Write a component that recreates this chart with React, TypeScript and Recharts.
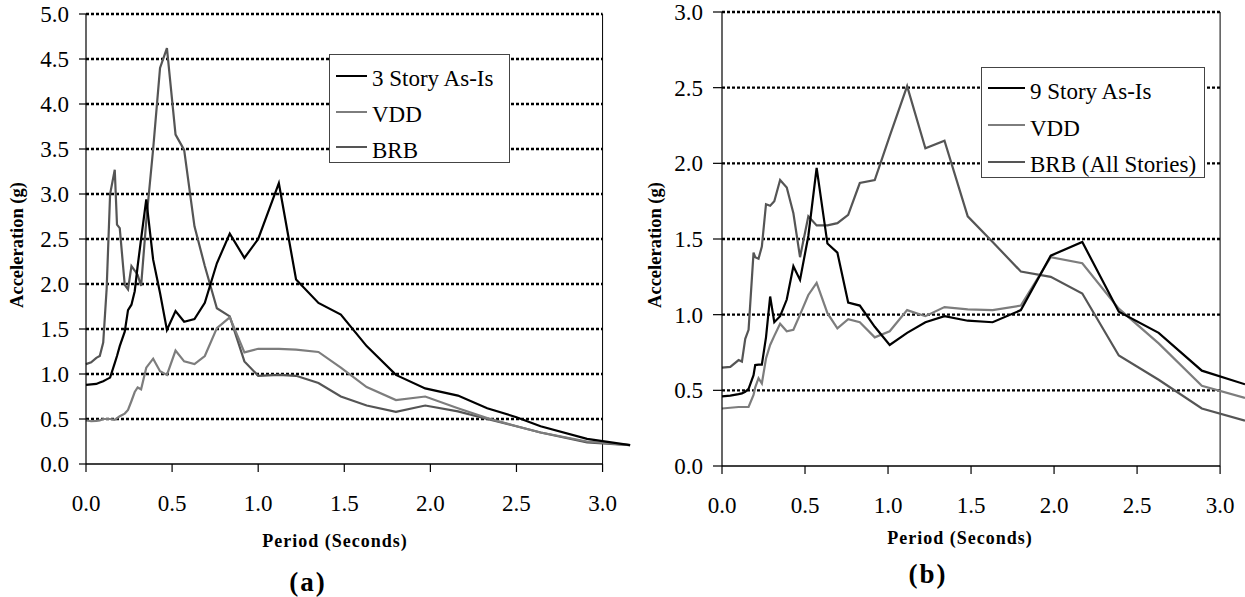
import React from "react";
import { LineChart, Line, XAxis, YAxis, ReferenceLine, Legend } from "recharts";

const FONT = '"Liberation Serif", "Times New Roman", serif';

// (a) 3 story building
const periodsA = [0, 0.03, 0.06, 0.08, 0.1, 0.12, 0.14, 0.167, 0.18, 0.196, 0.225, 0.244, 0.264, 0.283, 0.3, 0.32, 0.35, 0.39, 0.43, 0.47, 0.52, 0.57, 0.63, 0.69, 0.76, 0.835, 0.92, 1.0, 1.12, 1.22, 1.35, 1.48, 1.63, 1.8, 1.97, 2.16, 2.33, 2.5, 2.64, 2.91, 3.16];
const asIsA = [0.88, 0.885, 0.89, 0.905, 0.92, 0.94, 0.96, 1.12, 1.2, 1.31, 1.47, 1.71, 1.77, 1.92, 2.2, 2.5, 2.94, 2.27, 1.9, 1.49, 1.7, 1.58, 1.61, 1.79, 2.23, 2.56, 2.29, 2.5, 3.12, 2.05, 1.79, 1.66, 1.31, 0.99, 0.84, 0.76, 0.62, 0.52, 0.42, 0.28, 0.21];
const vddA = [0.485, 0.475, 0.48, 0.485, 0.5, 0.5, 0.5, 0.49, 0.51, 0.53, 0.56, 0.6, 0.7, 0.8, 0.85, 0.83, 1.07, 1.17, 1.03, 0.99, 1.26, 1.14, 1.11, 1.2, 1.51, 1.63, 1.24, 1.28, 1.28, 1.27, 1.245, 1.07, 0.855, 0.71, 0.75, 0.62, 0.51, 0.42, 0.35, 0.25, 0.21];
const brbA = [1.11, 1.13, 1.18, 1.2, 1.35, 1.95, 3.0, 3.27, 2.66, 2.62, 1.99, 1.94, 2.2, 2.15, 2.1, 1.98, 2.7, 3.5, 4.4, 4.62, 3.66, 3.49, 2.64, 2.2, 1.73, 1.64, 1.14, 0.98, 0.99, 0.98, 0.9, 0.75, 0.65, 0.58, 0.65, 0.585, 0.5, 0.42, 0.35, 0.24, 0.21];

// (b) 9 story building
const periodsB = [0, 0.05, 0.1, 0.12, 0.14, 0.16, 0.19, 0.2, 0.22, 0.24, 0.265, 0.29, 0.315, 0.35, 0.39, 0.43, 0.47, 0.52, 0.57, 0.635, 0.695, 0.76, 0.83, 0.92, 1.01, 1.115, 1.225, 1.34, 1.48, 1.63, 1.8, 1.98, 2.17, 2.39, 2.63, 2.89, 3.15];
const asIsB = [0.46, 0.465, 0.475, 0.48, 0.49, 0.51, 0.6, 0.667, 0.67, 0.67, 0.85, 1.12, 0.95, 0.99, 1.1, 1.32, 1.23, 1.52, 1.97, 1.47, 1.41, 1.08, 1.06, 0.92, 0.8, 0.88, 0.95, 0.99, 0.96, 0.95, 1.03, 1.39, 1.48, 1.02, 0.88, 0.63, 0.54];
const vddB = [0.38, 0.385, 0.39, 0.39, 0.39, 0.39, 0.47, 0.52, 0.58, 0.545, 0.71, 0.8, 0.86, 0.94, 0.89, 0.9, 1.0, 1.13, 1.21, 1.01, 0.91, 0.97, 0.95, 0.85, 0.89, 1.03, 0.99, 1.05, 1.035, 1.03, 1.06, 1.38, 1.34, 1.04, 0.81, 0.53, 0.45];
const brbB = [0.65, 0.655, 0.7, 0.69, 0.84, 0.9, 1.41, 1.38, 1.37, 1.45, 1.73, 1.72, 1.75, 1.89, 1.84, 1.67, 1.38, 1.65, 1.59, 1.59, 1.605, 1.66, 1.87, 1.89, 2.18, 2.51, 2.1, 2.15, 1.65, 1.48, 1.285, 1.25, 1.14, 0.73, 0.57, 0.38, 0.3];

const xTicks = [0, 0.5, 1, 1.5, 2, 2.5, 3];
const yTicksA = [0, 0.5, 1, 1.5, 2, 2.5, 3, 3.5, 4, 4.5, 5];
const yTicksB = [0, 0.5, 1, 1.5, 2, 2.5, 3];

const namesA = ["3 Story As-Is", "VDD", "BRB"];
const namesB = ["9 Story As-Is", "VDD", "BRB (All Stories)"];
const colors = ["#000000", "#7d7d7d", "#555555"];
const keys = ["asIs", "vdd", "brb"];

const dataA = periodsA.map((p, i) => ({ p, asIs: asIsA[i], vdd: vddA[i], brb: brbA[i] }));
const dataB = periodsB.map((p, i) => ({ p, asIs: asIsB[i], vdd: vddB[i], brb: brbB[i] }));

const tickStyle = { fill: "#000", fontSize: 23, fontFamily: FONT };
const fmt = (v: number) => v.toFixed(1);

function LegendBox({ names, sample, rowH, padTop }: any) {
  return (
    <div
      style={{
        width: "100%",
        height: "100%",
        boxSizing: "border-box",
        border: "1px solid #444",
        background: "#fff",
        paddingTop: padTop,
        fontFamily: FONT,
        fontSize: 23,
        color: "#000",
      }}
    >
      {names.map((n: string, i: number) => (
        <div key={n} style={{ height: rowH, display: "flex", alignItems: "center" }}>
          <span style={{ marginLeft: 6, width: sample, borderTop: `2.5px solid ${colors[i]}` }} />
          <span style={{ marginLeft: 5, lineHeight: 1, whiteSpace: "nowrap", position: "relative", top: 3 }}>{n}</span>
        </div>
      ))}
    </div>
  );
}

function Panel(props: any) {
  const { data, width, height, margin, yAxisWidth, yTickSize, xMax, yMax, yTicks, names, legend } = props;
  return (
    <LineChart width={width} height={height} data={data} margin={margin}>
      <XAxis
        type="number"
        dataKey="p"
        domain={[0, xMax]}
        ticks={xTicks}
        interval={0}
        height={40}
        tickSize={8}
        tickMargin={23}
        axisLine={false}
        tickLine={{ stroke: "#000", strokeWidth: 1.2 }}
        tick={tickStyle}
        tickFormatter={fmt}
      />
      <YAxis
        type="number"
        domain={[0, yMax]}
        ticks={yTicks}
        interval={0}
        width={yAxisWidth}
        tickSize={yTickSize}
        tickMargin={10}
        axisLine={{ stroke: "#000", strokeWidth: 1.2 }}
        tickLine={{ stroke: "#000", strokeWidth: 1.2 }}
        tick={tickStyle}
        tickFormatter={fmt}
      />
      {yTicks
        .filter((v: number) => v > 0)
        .map((v: number) => (
          <ReferenceLine
            key={v}
            segment={[{ x: 0, y: v }, { x: 3, y: v }]}
            stroke="#000"
            strokeWidth={2.4}
            strokeDasharray="3 2"
          />
        ))}
      <ReferenceLine segment={[{ x: 0, y: 0 }, { x: 3, y: 0 }]} stroke="#000" strokeWidth={1.5} />
      <ReferenceLine segment={[{ x: 3, y: 0 }, { x: 3, y: yMax }]} stroke="#000" strokeWidth={1} />
      {[2, 1, 0].map((i) => (
        <Line
          key={keys[i]}
          type="linear"
          dataKey={keys[i]}
          name={names[i]}
          stroke={colors[i]}
          strokeWidth={2.2}
          dot={false}
          isAnimationActive={false}
        />
      ))}
      <Legend
        layout="vertical"
        align="center"
        verticalAlign="middle"
        wrapperStyle={{ left: legend.left, top: legend.top, width: legend.w, height: legend.h }}
        content={() => <LegendBox names={names} sample={legend.sample} rowH={legend.rowH} padTop={legend.padTop} />}
      />
    </LineChart>
  );
}

const abs = (extra: React.CSSProperties): React.CSSProperties => ({
  position: "absolute",
  fontFamily: FONT,
  color: "#000",
  whiteSpace: "nowrap",
  lineHeight: 1,
  transform: "translate(-50%, -50%)",
  ...extra,
});

export default function App() {
  return (
    <div style={{ position: "absolute", left: 0, top: 0, width: 1245, height: 597, background: "#fff", overflow: "hidden" }}>
      <div style={{ position: "absolute", left: 0, top: 0 }}>
        <Panel
          data={dataA}
          width={640}
          height={597}
          margin={{ top: 14, right: 3, left: 6, bottom: 93 }}
          yAxisWidth={80}
          yTickSize={7}
          xMax={3.2}
          yMax={5}
          yTicks={yTicksA}
          names={namesA}
          legend={{ left: 329, top: 54, w: 181, h: 109, sample: 31, rowH: 35.8, padTop: 3 }}
        />
      </div>
      <div style={{ position: "absolute", left: 640, top: 0 }}>
        <Panel
          data={dataB}
          width={605}
          height={597}
          margin={{ top: 12, right: 0, left: 6, bottom: 91 }}
          yAxisWidth={76}
          yTickSize={9}
          xMax={3.15}
          yMax={3}
          yTicks={yTicksB}
          names={namesB}
          legend={{ left: 341, top: 67, w: 224, h: 111, sample: 37, rowH: 36.8, padTop: 2 }}
        />
      </div>

      <div style={abs({ left: 17, top: 245, fontSize: 18.5, fontWeight: "bold", transform: "translate(-50%, -50%) rotate(-90deg)" })}>
        Acceleration (g)
      </div>
      <div style={abs({ left: 655, top: 245, fontSize: 18.5, fontWeight: "bold", transform: "translate(-50%, -50%) rotate(-90deg)" })}>
        Acceleration (g)
      </div>
      <div style={abs({ left: 335, top: 541, fontSize: 18, fontWeight: "bold", letterSpacing: 1 })}>Period (Seconds)</div>
      <div style={abs({ left: 960, top: 538, fontSize: 18, fontWeight: "bold", letterSpacing: 1 })}>Period (Seconds)</div>
      <div style={abs({ left: 308, top: 582, fontSize: 27, fontWeight: "bold", letterSpacing: 2 })}>(a)</div>
      <div style={abs({ left: 928, top: 574, fontSize: 27, fontWeight: "bold", letterSpacing: 2 })}>(b)</div>
    </div>
  );
}
